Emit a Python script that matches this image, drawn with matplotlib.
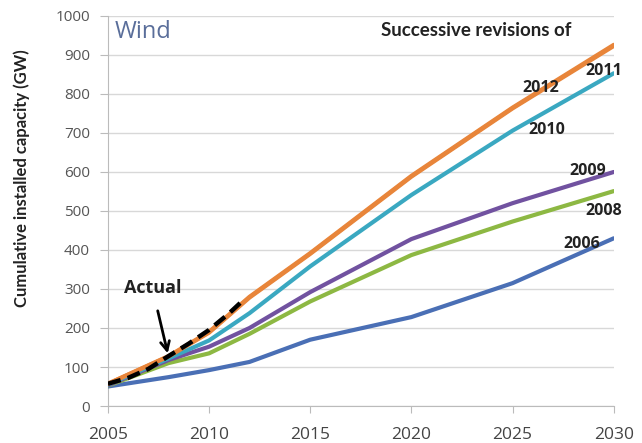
import matplotlib
matplotlib.use("Agg")
import matplotlib.pyplot as plt

years = [2005, 2008, 2010, 2012, 2015, 2020, 2025, 2030]
rev_2006 = [50, 74, 92, 113, 170, 228, 315, 430]
rev_2008 = [52, 110, 135, 185, 268, 387, 473, 551]
rev_2009 = [53, 118, 152, 200, 292, 428, 520, 600]
rev_2010 = [55, 122, 168, 238, 358, 541, 706, 853]
rev_2011 = [57, 127, 188, 278, 390, 588, 763, 923]
rev_2012 = [57, 128, 190, 280, 392, 590, 765, 926]
actual_years = [2005, 2006, 2007, 2008, 2009, 2010, 2011, 2011.6]
actual_vals = [57, 72, 95, 128, 160, 195, 238, 267]

plt.rcParams['font.family'] = ['Open Sans', 'DejaVu Sans']
fig = plt.figure(figsize=(6.42, 4.43), dpi=100)
ax = fig.add_axes([0.168, 0.0835, 0.788, 0.8805])

kw = dict(lw=3, solid_capstyle='round', solid_joinstyle='round', zorder=3)
ax.plot(years, rev_2006, color='#4A6FB5', **kw)
ax.plot(years, rev_2008, color='#8DB843', **kw)
ax.plot(years, rev_2009, color='#7152A0', **kw)
ax.plot(years, rev_2010, color='#3AA8C1', **kw)
ax.plot(years, rev_2011, color='#E8853A', **kw)
ax.plot(years, rev_2012, color='#E8853A', **kw)
ax.plot(actual_years, actual_vals, color='black', lw=3.2, ls=(0, (3, 1.6)), zorder=4)

ax.set_xlim(2005, 2030)
ax.set_ylim(0, 1000)
ax.set_xticks([2005, 2010, 2015, 2020, 2025, 2030])
ax.set_yticks(range(0, 1001, 100))
ax.tick_params(axis='x', labelsize=12.5, labelcolor='#444444', length=5, width=0.8,
               direction='out', color='#BBBBBB', pad=10)
ax.tick_params(axis='y', labelsize=11, labelcolor='#555555', length=6, width=0.8,
               color='#BBBBBB', pad=7)
ax.grid(axis='y', color='#D8D8D8', lw=1)
ax.set_axisbelow(True)
for s in ['top', 'right']:
    ax.spines[s].set_visible(False)
for s in ['left', 'bottom']:
    ax.spines[s].set_color('#BBBBBB')
ax.set_ylabel('Cumulative installed capacity (GW)', fontsize=12, fontweight='bold',
              color='#222222', family=['Lato', 'DejaVu Sans'])
ax.yaxis.set_label_coords(-0.154, 0.585)

ax.text(2005.35, 959, 'Wind', fontsize=17, color='#5A6E9A', va='center', ha='left')
ax.text(2023.2, 963, 'Successive revisions of', fontsize=13.5, fontweight='bold', color='#222222',
        ha='center', va='center', family=['Lato', 'DejaVu Sans'])
lbl = dict(fontsize=11.5, fontweight='bold', color='#222222', ha='center', va='center', zorder=5)
ax.text(2026.4, 815, '2012', **lbl)
ax.text(2029.5, 859, '2011', **lbl)
ax.text(2026.7, 708, '2010', **lbl)
ax.text(2028.7, 603, '2009', **lbl)
ax.text(2029.5, 500, '2008', **lbl)
ax.text(2028.4, 415, '2006', **lbl)

ax.annotate('Actual', xy=(2007.96, 135), xytext=(2007.2, 302),
            fontsize=13, fontweight='bold', color='#222222', ha='center', va='center',
            arrowprops=dict(arrowstyle='->', color='black', lw=2, shrinkA=8, shrinkB=0,
                            mutation_scale=16))

fig.savefig('out.png', dpi=100)
